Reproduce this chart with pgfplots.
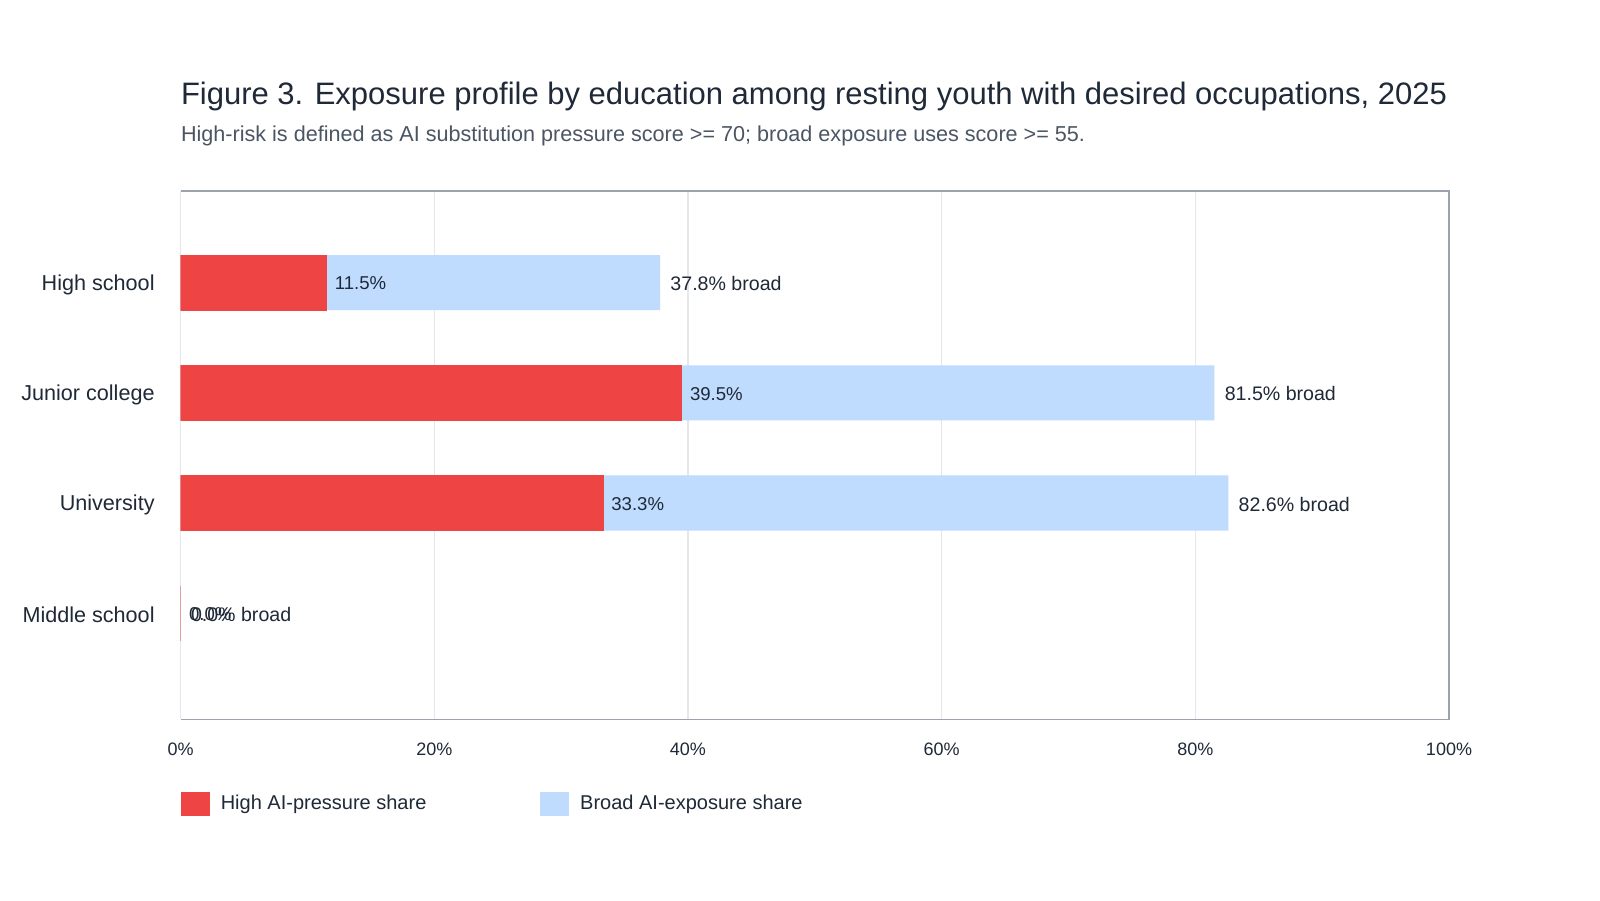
\documentclass[border=0pt]{standalone}
\usepackage{pgfplots}
\pgfplotsset{compat=1.18}
\usepackage{fontspec}
\setmainfont{Liberation Sans}
\definecolor{barred}{HTML}{EF4444}
\definecolor{barblue}{HTML}{BFDBFE}
\definecolor{gridc}{HTML}{E5E7EB}
\definecolor{framec}{HTML}{9CA3AF}
\definecolor{txt}{HTML}{1F2937}
\definecolor{subtxt}{HTML}{4B5563}
\begin{document}
\begin{tikzpicture}
\useasboundingbox[fill=white] (0pt,0pt) rectangle (800pt,450pt);
\node[anchor=base west, inner sep=0pt, text=txt, font=\fontsize{15.5}{18}\selectfont] at (90.3pt,397.5pt) {Figure 3. Exposure profile by education among resting youth with desired occupations, 2025};
\node[anchor=base west, inner sep=0pt, text=subtxt, font=\fontsize{10.8}{13}\selectfont] at (90.3pt,379pt) {High-risk is defined as AI substitution pressure score >= 70; broad exposure uses score >= 55.};
\begin{axis}[
  at={(90.3pt,90.3pt)}, anchor=south west,
  scale only axis, width=634.2pt, height=264.3pt,
  /pgf/number format/assume math mode=true,
  xmin=0, xmax=100,
  ymin=-0.833, ymax=3.963, y dir=reverse,
  xtick={0,20,40,60,80,100},
  xticklabels={0\%,20\%,40\%,60\%,80\%,100\%},
  ytick={0,1,2,3},
  yticklabels={High school,Junior college,University,Middle school},
  major tick length=0pt,
  xmajorgrids, major grid style={gridc, line width=0.6pt},
  axis line style={draw=none},
  xticklabel style={font=\fontsize{9}{11}\selectfont, text=txt, inner sep=0pt, anchor=north, yshift=-11.5pt},
  yticklabel style={font=\fontsize{10.8}{13}\selectfont, text=txt, inner sep=0pt, anchor=east, xshift=-12.8pt, yshift=-1pt},
  xbar, bar width=0.5,
  legend columns=2,
  legend style={draw=none, fill=none, at={(0,0)}, anchor=west, yshift=-42.3pt, inner sep=0pt,
    font=\fontsize{10}{12}\selectfont, text=txt,
    nodes={inner sep=0pt, anchor=west},
    /tikz/every even column/.append style={column sep=57pt}},
  legend cell align=left,
  legend image code/.code={\fill[#1] (0pt,-5.6pt) rectangle (13.8pt,5.6pt); \path (19.5pt,0pt);},
  after end axis/.code={
    \draw[framec, line width=0.8pt] (rel axis cs:0,1) -- (rel axis cs:1,1) -- (rel axis cs:1,0) -- (rel axis cs:0,0);
  },
]
\addlegendimage{barred}
\addlegendentry{High AI-pressure share}
\addlegendimage{barblue}
\addlegendentry{Broad AI-exposure share}
\addplot[forget plot, bar shift=0pt, fill=barblue, draw=none,
  nodes near coords={\pgfmathprintnumber[fixed,zerofill,precision=1]{\pgfplotspointmeta}\% broad},
  nodes near coords style={font=\fontsize{9.8}{11}\selectfont, text=txt, anchor=west, inner sep=0pt, xshift=5pt, yshift=-0.5pt}]
  coordinates {(37.8,0) (81.5,1) (82.6,2) (0.0,3)};
\addplot[forget plot, bar shift=0pt, fill=barred, draw=barred, line width=0.4pt,
  nodes near coords={\pgfmathprintnumber[fixed,zerofill,precision=1]{\pgfplotspointmeta}\%},
  nodes near coords style={font=\fontsize{9.3}{11}\selectfont, text=txt, anchor=west, inner sep=0pt, xshift=4pt, yshift=-0.5pt}]
  coordinates {(11.5,0) (39.5,1) (33.3,2) (0.0,3)};
\end{axis}
\end{tikzpicture}
\end{document}
